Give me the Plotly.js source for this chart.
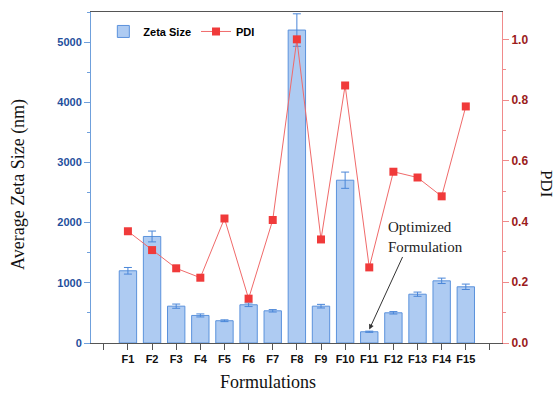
<!DOCTYPE html>
<html>
<head>
<meta charset="utf-8">
<script src="https://cdn.plot.ly/plotly-3.0.1.min.js"></script>
<style>html,body{margin:0;padding:0;background:#fff;}#chart{width:559px;height:393px;}</style>
</head>
<body>
<div id="chart"></div>
<script>
const formulations = ['F1','F2','F3','F4','F5','F6','F7','F8','F9','F10','F11','F12','F13','F14','F15'];
const zetaSize = [1200, 1770, 612, 458, 370, 635, 535, 5200, 612, 2705, 187, 502, 811, 1033, 934];
const zetaErr  = [55, 90, 35, 25, 15, 30, 20, 270, 30, 135, 10, 20, 35, 45, 45];
const pdi      = [0.368, 0.306, 0.246, 0.215, 0.410, 0.146, 0.405, 1.0, 0.341, 0.848, 0.249, 0.564, 0.545, 0.483, 0.779];

const xPos = formulations.map((_, i) => i + 1);
const tickVals = [0].concat(xPos, [formulations.length + 1]);
const tickText = [''].concat(formulations, ['']);

const bars = {
  type: 'bar', name: 'Zeta Size', x: xPos, y: zetaSize, width: 0.72,
  marker: {color: '#aecbf2', line: {color: '#5b92dc', width: 1}},
  error_y: {type: 'data', array: zetaErr, visible: true, color: '#4a86d8', thickness: 1, width: 4},
  yaxis: 'y'
};
const line = {
  type: 'scatter', mode: 'lines+markers', name: 'PDI', x: xPos, y: pdi,
  line: {color: '#f06a6a', width: 1},
  marker: {symbol: 'square', size: 8, color: '#f03a3a'},
  yaxis: 'y2'
};

const layout = {
  width: 559, height: 393,
  margin: {l: 91, r: 57, t: 12, b: 50},
  paper_bgcolor: '#fff', plot_bgcolor: '#fff',
  showlegend: true,
  legend: {orientation: 'h', x: 0.03, y: 0.985, xanchor: 'left', yanchor: 'top',
    font: {family: 'Liberation Sans, Arial', size: 11, color: '#000', weight: 'bold'},
    bgcolor: 'rgba(0,0,0,0)', itemwidth: 30, tracegroupgap: 0},
  xaxis: {
    range: [-0.53, 16.5], tickmode: 'array', tickvals: tickVals, ticktext: tickText,
    showgrid: false, zeroline: false, showline: true, linecolor: '#555', linewidth: 1,
    mirror: true, ticks: 'outside', ticklen: 6, tickcolor: '#555',
    tickfont: {family: 'Liberation Sans, Arial', size: 11, color: '#111', weight: 'bold'}
  },
  yaxis: {
    range: [0, 5500], dtick: 1000, showgrid: false, zeroline: false,
    showline: true, linecolor: '#6fa0dc', linewidth: 1,
    ticks: 'outside', ticklen: 6, tickcolor: '#6fa0dc',
    minor: {dtick: 500, ticks: 'outside', ticklen: 3, tickcolor: '#6fa0dc'},
    tickfont: {family: 'Liberation Sans, Arial', size: 11, color: '#1f4e9c', weight: 'bold'}
  },
  yaxis2: {
    overlaying: 'y', side: 'right', range: [0, 1.09], dtick: 0.2, tickformat: '.1f',
    showgrid: false, zeroline: false, showline: true, linecolor: '#f08a8a', linewidth: 1,
    ticks: 'outside', ticklen: 6, tickcolor: '#f08a8a',
    minor: {dtick: 0.1, ticks: 'outside', ticklen: 3, tickcolor: '#f08a8a'},
    tickfont: {family: 'Liberation Sans, Arial', size: 12, color: '#9b1c1c', weight: 'bold'}
  },
  annotations: [
    {text: 'Average Zeta Size (nm)', xref: 'paper', yref: 'paper', x: -0.178, y: 0.48,
     textangle: -90, showarrow: false, xanchor: 'center', yanchor: 'middle',
     font: {family: 'Liberation Serif, Times New Roman', size: 18, color: '#111'}},
    {text: 'PDI', xref: 'paper', yref: 'paper', x: 1.11, y: 0.48,
     textangle: 90, showarrow: false, xanchor: 'center', yanchor: 'middle',
     font: {family: 'Liberation Serif, Times New Roman', size: 17, color: '#111'}},
    {text: 'Formulations', xref: 'paper', yref: 'paper', x: 0.43, y: -0.118,
     showarrow: false, xanchor: 'center', yanchor: 'middle',
     font: {family: 'Liberation Serif, Times New Roman', size: 18, color: '#111'}},
    {text: '', x: 11, y: 225, xref: 'x', yref: 'y', showarrow: true,
     ax: 34, ay: -74, arrowhead: 2, arrowsize: 1, arrowwidth: 1, arrowcolor: '#333', standoff: 0},
    {text: 'Optimized<br>Formulation', x: 11.7, y: 2100, xref: 'x', yref: 'y',
     showarrow: false, xanchor: 'left', yanchor: 'top', align: 'left',
     font: {family: 'Liberation Serif, Times New Roman', size: 15, color: '#222'}}
  ]
};

Plotly.newPlot('chart', [bars, line], layout, {displayModeBar: false, staticPlot: true});
</script>
</body>
</html>
